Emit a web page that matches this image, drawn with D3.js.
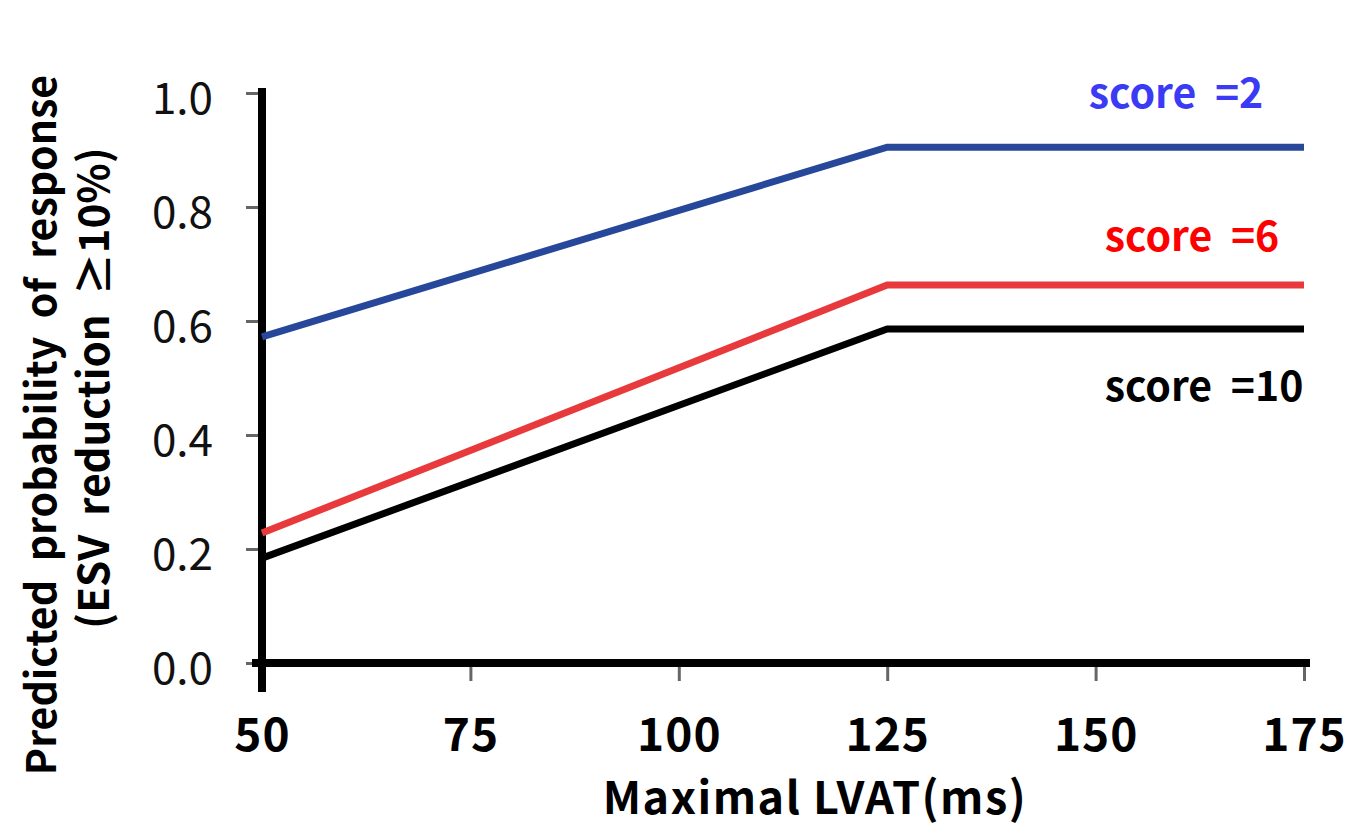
<!DOCTYPE html>
<html>
<head>
<meta charset="utf-8">
<script src="https://cdn.jsdelivr.net/npm/d3@7/dist/d3.min.js"></script>
<style>
  body { margin: 0; background: #fff; }
  svg text { font-family: "Noto Sans CJK KR", "Noto Sans", sans-serif; }
</style>
</head>
<body>
<div id="chart"></div>
<script>
// data
const lvat = [50, 125, 175];
const score2 = [0.572, 0.905, 0.905];
const score6 = [0.228, 0.663, 0.663];
const score10 = [0.184, 0.586, 0.586];
const xTicks = [50, 75, 100, 125, 150, 175];
const yTicks = [0.0, 0.2, 0.4, 0.6, 0.8, 1.0];
const seriesNames = ['score =2', 'score =6', 'score =10'];
const lineColors = ['#27479a', '#e83a3c', '#000000'];
const labelColors = ['#3b3bf5', '#ff0000', '#000000'];

const width = 1351, height = 834;
const margin = { top: 93, right: 47, bottom: 171, left: 262 };

const svg = d3.select('#chart').append('svg')
  .attr('width', width)
  .attr('height', height);

const x = d3.scaleLinear().domain([50, 175]).range([margin.left, width - margin.right]);
const y = d3.scaleLinear().domain([0, 1]).range([height - margin.bottom, margin.top]);

// tick marks (gray, thin)
svg.append('g')
  .attr('transform', `translate(${margin.left},0)`)
  .call(d3.axisLeft(y).tickValues(yTicks).tickSize(16).tickFormat(d3.format('.1f')))
  .call(g => g.select('.domain').remove())
  .call(g => g.selectAll('line').attr('stroke', '#666').attr('stroke-width', 3))
  .call(g => g.selectAll('text')
    .attr('x', -49)
    .attr('y', 5)
    .attr('fill', '#111')
    .style('font-size', '44px')
    .style('font-weight', 400)
    .attr('dy', '0.36em'));

svg.append('g')
  .attr('transform', `translate(0,${y(0)})`)
  .call(d3.axisBottom(x).tickValues(xTicks).tickSize(18).tickFormat(d3.format('d')))
  .call(g => g.select('.domain').remove())
  .call(g => g.selectAll('line').attr('stroke', '#666').attr('stroke-width', 3))
  .call(g => g.selectAll('text')
    .attr('y', 55)
    .attr('dy', '0.71em')
    .attr('fill', '#000')
    .style('font-size', '46px')
    .style('letter-spacing', '1px')
    .style('font-weight', 700));

// thick black axis lines
svg.append('line')
  .attr('x1', x(50)).attr('x2', x(50))
  .attr('y1', y(1) - 5).attr('y2', y(0) + 29)
  .attr('stroke', '#000').attr('stroke-width', 8);
svg.append('line')
  .attr('x1', x(50) - 10).attr('x2', x(175) + 6)
  .attr('y1', y(0)).attr('y2', y(0))
  .attr('stroke', '#000').attr('stroke-width', 8);

// lines
const line = d3.line()
  .x((d, i) => x(lvat[i]))
  .y(d => y(d));

[score2, score6, score10].forEach((s, i) => {
  svg.append('path')
    .datum(s)
    .attr('d', line)
    .attr('fill', 'none')
    .attr('stroke', lineColors[i])
    .attr('stroke-width', 7);
});

// series labels
const labelPos = [
  { x: 1176, y: 108 },
  { x: 1192, y: 251 },
  { x: 1204, y: 401 }
];
seriesNames.forEach((name, i) => {
  svg.append('text')
    .attr('x', labelPos[i].x)
    .attr('y', labelPos[i].y)
    .attr('text-anchor', 'middle')
    .attr('fill', labelColors[i])
    .style('font-size', '41px')
    .style('font-weight', 700)
    .text(name.replace(' ', '\u00a0\u00a0'));
});

// axis titles
svg.append('text')
  .attr('x', 815)
  .attr('y', 814)
  .attr('text-anchor', 'middle')
  .style('font-size', '45px')
  .style('letter-spacing', '1.5px')
  .style('font-weight', 700)
  .text('Maximal LVAT(ms)');

svg.append('text')
  .attr('text-anchor', 'middle')
  .attr('transform', 'translate(56,425) rotate(-90)')
  .style('font-size', '41px')
  .style('font-weight', 700)
  .text('Predicted\u00a0\u00a0probability\u00a0\u00a0of\u00a0\u00a0response');

svg.append('text')
  .attr('text-anchor', 'middle')
  .attr('transform', 'translate(109,388) rotate(-90)')
  .style('font-size', '42px')
  .style('font-weight', 700)
  .text('(ESV\u00a0\u00a0reduction\u00a0\u00a0\u226510%)');
</script>
</body>
</html>
